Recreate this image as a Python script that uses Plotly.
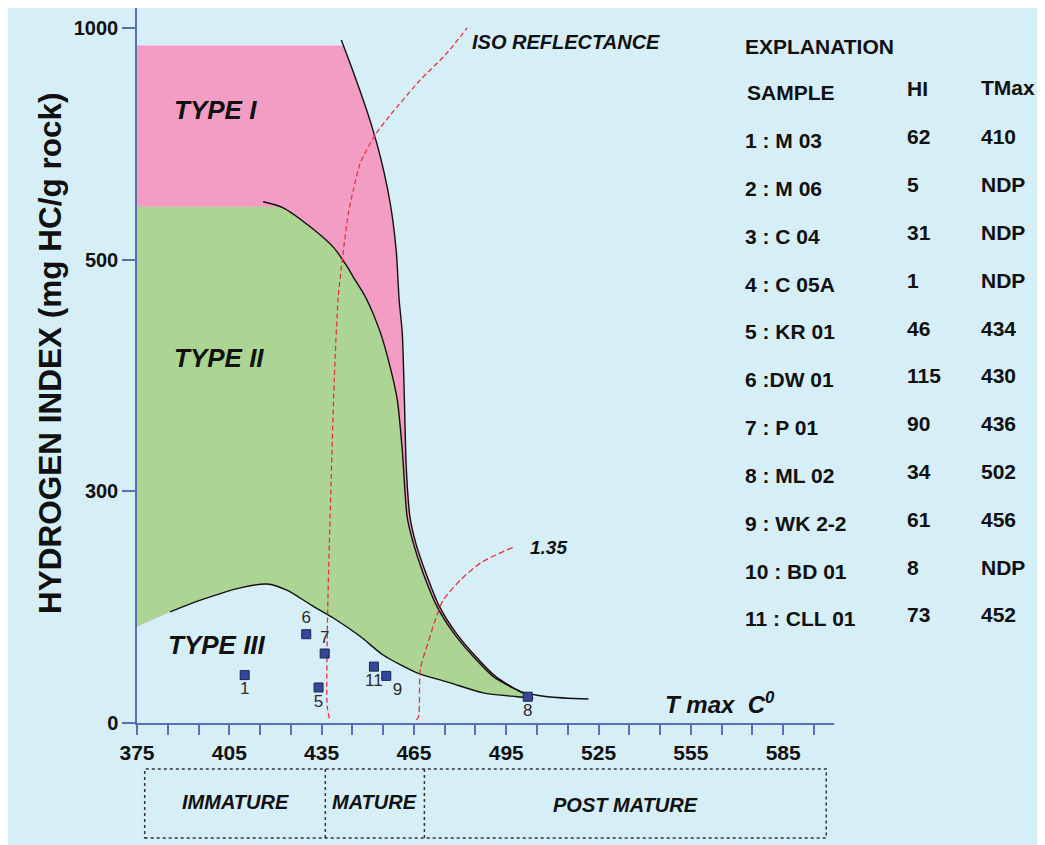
import numpy as np
import plotly.graph_objects as go

# ---------------- data ----------------
sample_no = [1, 2, 3, 4, 5, 6, 7, 8, 9, 10, 11]
sample_name = ["1 : M 03", "2 : M 06", "3 : C 04", "4 : C 05A", "5 : KR 01", "6 :DW 01",
               "7 : P 01", "8 : ML 02", "9 : WK 2-2", "10 : BD 01", "11 : CLL 01"]
hi_vals = [62, 5, 31, 1, 46, 115, 90, 34, 61, 8, 73]
tmax_vals = [410, None, None, None, 434, 430, 436, 502, 456, None, 452]

# kerogen type boundaries (Tmax, HI)
type1_t = [441.4, 445.3, 448.5, 451.4, 454.1, 456.3, 458.0, 459.3, 460.2, 461.2, 461.9, 462.5,
           463.7, 465.6, 468.9, 473.4, 478.6, 485.1, 491.6, 499.6, 508.4, 521.7]
type1_hi = [974, 905, 845, 786, 722, 657, 592, 515, 465, 437, 379, 321,
            267, 233, 194, 150, 117, 86, 60, 41, 34, 31]
type2_t = [416.0, 422.5, 431.3, 438.8, 443.3, 445.3, 449.2, 454.1, 457.3, 459.6, 461.2, 462.8,
           464.8, 468.0, 472.6, 477.8, 484.3, 490.8, 497.3, 502.8]
type2_hi = [625, 612, 571, 527, 494, 485, 468, 437, 407, 379, 336, 267,
            233, 194, 150, 117, 86, 60, 45, 34]
type3_t = [385.8, 395.6, 408.6, 417.2, 423.7, 432.3, 438.8, 447.6, 455.0, 466.0, 476.8, 487.5, 498.5, 503.8]
type3_hi = [144, 159, 175, 180, 172, 151, 136, 112, 88, 65, 52, 39, 34, 32]
type1_top_hi = 962
type2_top_hi = 614
type3_left_hi = 125

# iso-reflectance lines
iso1_t = [437.5, 436.8, 436.8, 437.2, 438.1, 439.1, 440.4, 442.0, 443.7, 445.3, 447.6, 452.4, 457.3, 467.1, 475.2, 482.3]
iso1_hi = [6, 22, 108, 185, 310, 396, 468, 515, 601, 650, 709, 769, 812, 888, 942, 1000]
iso2_t = [465.8, 466.5, 467.1, 469.2, 471.9, 474.5, 480.1, 486.6, 497.4]
iso2_hi = [4, 8, 71, 99, 133, 159, 185, 207, 228]

# axes
x_tick_vals = [375, 405, 435, 465, 495, 525, 555, 585]
y_tick_vals = [0, 300, 500, 1000]

# maturity zones
zone_names = ["IMMATURE", "MATURE", "POST MATURE"]
zone_bounds = [377.5, 436.2, 468.4, 599.0]

# ---------------- helpers ----------------
Y_KNOTS = [0, 300, 500, 1000]
Y_POS = [0, 1, 2, 3]
PX_PER_Y = 231.67   # pixels per y-segment
PX_PER_T = 3.077    # pixels per degree


def fy(v):
    return np.interp(np.asarray(v, dtype=float), Y_KNOTS, Y_POS)


# page has an 8px body margin: figure origin sits at (8, 8) in the screenshot
OFF = 8
FIG_W, FIG_H = 1045, 845
PL, PR, PT, PB = 137, 834, 8, 723   # plot area in screenshot pixels
W, H = PR - PL, PB - PT


def xp(px):
    return (px - PL) / W


def yp(py):
    return (PB - py) / H


FONT = "Liberation Sans, Arial, sans-serif"
BG = "#d6eef6"
PINK = "#f49dc4"
GREEN = "#acd594"
AXIS = "#5b6fb6"
RED = "#e8323c"

fig = go.Figure()

# pink (type I) area
pk_t = [375, 442.2] + [t for t in type1_t[1:] if t <= 500] + type3_t[::-1] + [375]
pk_h = [type1_top_hi, type1_top_hi] + [h for t, h in zip(type1_t[1:], type1_hi[1:]) if t <= 500] + type3_hi[::-1] + [type3_left_hi]
fig.add_trace(go.Scatter(x=pk_t, y=fy(pk_h), mode="lines", fill="toself", fillcolor=PINK,
                         line=dict(width=0, color=PINK), hoverinfo="skip", showlegend=False))

# green (type II) area
gr_t = [375, 418.0] + type2_t[1:] + type3_t[::-1] + [375]
gr_h = [type2_top_hi, type2_top_hi] + type2_hi[1:] + type3_hi[::-1] + [type3_left_hi]
fig.add_trace(go.Scatter(x=gr_t, y=fy(gr_h), mode="lines", fill="toself", fillcolor=GREEN,
                         line=dict(width=0, color=GREEN, shape="spline", smoothing=0.5),
                         hoverinfo="skip", showlegend=False))

# boundary curves
for tt, hh in [(type1_t, type1_hi), (type2_t, type2_hi), (type3_t, type3_hi)]:
    fig.add_trace(go.Scatter(x=tt, y=fy(hh), mode="lines",
                             line=dict(color="#111111", width=1.4, shape="spline", smoothing=0.7),
                             hoverinfo="skip", showlegend=False))

# iso reflectance lines
fig.add_trace(go.Scatter(x=iso1_t, y=fy(iso1_hi), mode="lines",
                         line=dict(color=RED, width=1.3, dash="5px,3px", shape="spline", smoothing=0.7),
                         hoverinfo="skip", showlegend=False))
fig.add_trace(go.Scatter(x=iso2_t, y=fy(iso2_hi), mode="lines",
                         line=dict(color=RED, width=1.3, dash="6px,3px", shape="spline", smoothing=0.7),
                         hoverinfo="skip", showlegend=False))

# samples
pos_map = {1: "bottom center", 5: "bottom center", 6: "top center", 7: "top center",
           8: "bottom center", 9: "bottom right", 11: "bottom center"}
pt_x, pt_y, pt_txt, pt_pos = [], [], [], []
for n, h, t in zip(sample_no, hi_vals, tmax_vals):
    if t is None:
        continue
    pt_x.append(t)
    pt_y.append(float(fy(h)))
    pt_txt.append(str(n))
    pt_pos.append(pos_map.get(n, "bottom center"))
fig.add_trace(go.Scatter(x=pt_x, y=pt_y, mode="markers+text", text=pt_txt, textposition=pt_pos,
                         textfont=dict(family=FONT, size=17, color="#2b2b2b"),
                         marker=dict(symbol="square", size=9, color="#34489a",
                                     line=dict(color="#1a2450", width=1)),
                         hoverinfo="skip", showlegend=False))

annotations = []


def ann(text, x, y, size, xref="paper", yref="paper", xanchor="left", yanchor="middle",
        weight="bold", style="normal", angle=0, color="#111111"):
    annotations.append(dict(text=text, x=x, y=y, xref=xref, yref=yref, xanchor=xanchor,
                            yanchor=yanchor, showarrow=False, textangle=angle,
                            font=dict(family=FONT, size=size, color=color, weight=weight, style=style)))


# region labels
ann("TYPE I", 386.5, float(fy(823)), 26, "x", "y", style="italic")
ann("TYPE II", 386.5, float(fy(415)), 26, "x", "y", style="italic")
ann("TYPE III", 384.5, float(fy(101)), 26, "x", "y", style="italic")
ann("ISO REFLECTANCE", 483.3, float(fy(970)), 20, "x", "y", style="italic")
ann("1.35", 502.2, float(fy(227)), 19, "x", "y", style="italic")
ann("T max  C<sup>0</sup>", xp(663), yp(703), 24, style="italic")

# y title
ann("HYDROGEN INDEX (mg HC/g rock)", xp(50), yp(353), 31.5, xanchor="center", angle=-90)

# explanation table
TS = 21
ann("EXPLANATION", xp(743), yp(46), TS)
ann("SAMPLE", xp(745), yp(93), TS)
ann("HI", xp(905), yp(89), TS)
ann("TMax", xp(979), yp(88), TS)
for i, (nm, h, t) in enumerate(zip(sample_name, hi_vals, tmax_vals)):
    ry = 140.8 + i * 47.8
    ann(nm, xp(743), yp(ry), TS)
    ann(str(h), xp(905), yp(ry - 4), TS)
    ann("NDP" if t is None else str(t), xp(979), yp(ry - 4), TS)

# maturity zones
shapes = []
zy0, zy1 = yp(838), yp(769)
shapes.append(dict(type="rect", xref="x", yref="paper", x0=zone_bounds[0], x1=zone_bounds[-1],
                   y0=zy0, y1=zy1, line=dict(color="#333333", width=1.5, dash="dot")))
for b in zone_bounds[1:-1]:
    shapes.append(dict(type="line", xref="x", yref="paper", x0=b, x1=b, y0=zy0, y1=zy1,
                       line=dict(color="#333333", width=1.5, dash="dot")))
zone_y = [yp(802), yp(802), yp(805)]
for i, nm in enumerate(zone_names):
    cx = (zone_bounds[i] + zone_bounds[i + 1]) / 2
    if i == 0:
        cx = 407
    ann(nm, cx, zone_y[i], 20, "x", "paper", xanchor="center", style="italic")

# x-axis extension left of y-axis
shapes.append(dict(type="line", xref="paper", yref="paper", x0=xp(126), x1=0, y0=0, y1=0,
                   line=dict(color=AXIS, width=1.5)))

fig.update_layout(
    width=FIG_W, height=FIG_H,
    margin=dict(l=PL - OFF, r=FIG_W - (PR - OFF), t=PT - OFF, b=FIG_H - (PB - OFF), pad=0),
    paper_bgcolor=BG, plot_bgcolor=BG,
    showlegend=False,
    annotations=annotations,
    shapes=shapes,
    xaxis=dict(range=[375, 375 + W / PX_PER_T], tickvals=x_tick_vals,
               ticktext=[str(v) for v in x_tick_vals],
               ticks="outside", ticklen=10, tickwidth=1.5, tickcolor=AXIS,
               minor=dict(tick0=375, dtick=10, ticks="outside", ticklen=10, tickwidth=1.5, tickcolor=AXIS,
                          showgrid=False),
               showline=True, linecolor=AXIS, linewidth=1.5, showgrid=False, zeroline=False,
               tickfont=dict(family=FONT, size=21, color="#111111", weight="bold")),
    yaxis=dict(range=[0, H / PX_PER_Y], tickvals=[float(v) for v in fy(y_tick_vals)],
               ticktext=[str(v) for v in y_tick_vals],
               ticks="outside", ticklen=13, tickwidth=1.5, tickcolor=AXIS,
               showline=True, linecolor=AXIS, linewidth=1.5, showgrid=False, zeroline=False,
               tickfont=dict(family=FONT, size=20, color="#111111", weight="bold")),
)

fig.write_html("out.html")
